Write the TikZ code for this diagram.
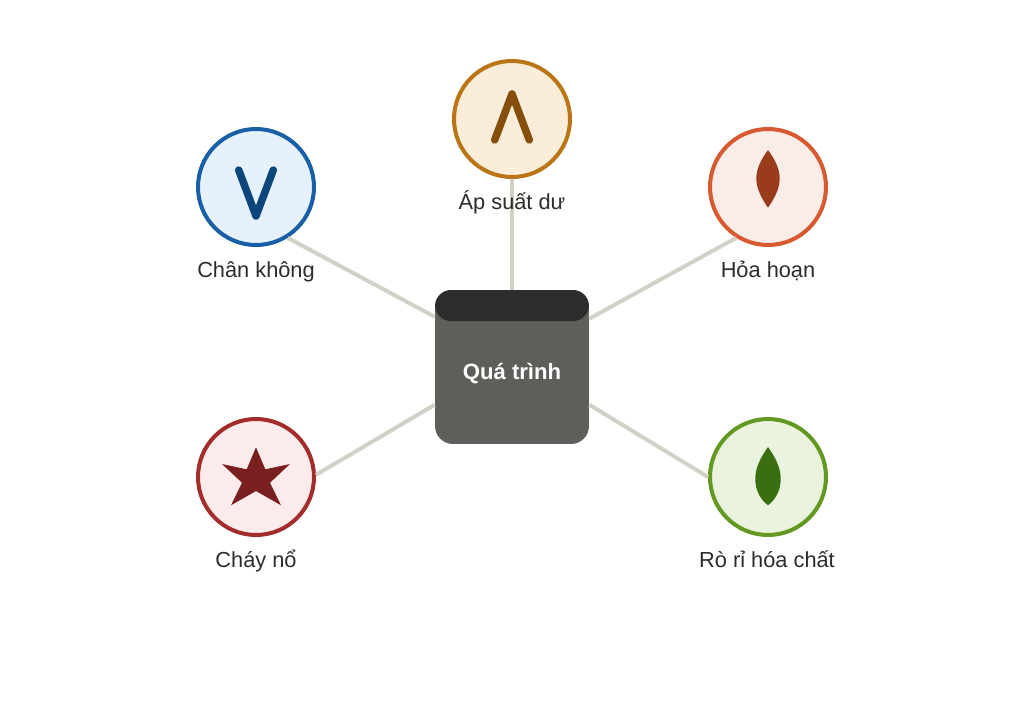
\documentclass[tikz,border=0pt]{standalone}
\usepackage{fontspec}
\setmainfont{Liberation Sans}
\usepackage{xcolor}
\usetikzlibrary{positioning}
\definecolor{linkgray}{HTML}{D3D1C7}
\definecolor{hubgray}{HTML}{5F5E5A}
\definecolor{hubdark}{HTML}{2C2C2A}
\definecolor{blueline}{HTML}{185FA5}
\definecolor{bluefill}{HTML}{E6F1FB}
\definecolor{blueicon}{HTML}{0C447C}
\definecolor{amberline}{HTML}{BA7517}
\definecolor{amberfill}{HTML}{FAEEDA}
\definecolor{ambericon}{HTML}{854F0B}
\definecolor{coralline}{HTML}{D85A30}
\definecolor{coralfill}{HTML}{FAECE7}
\definecolor{coralicon}{HTML}{993C1D}
\definecolor{redline}{HTML}{A32D2D}
\definecolor{redfill}{HTML}{FCEBEB}
\definecolor{redicon}{HTML}{791F1F}
\definecolor{greenline}{HTML}{639922}
\definecolor{greenfill}{HTML}{EAF3DE}
\definecolor{greenicon}{HTML}{3B6D11}
\tikzset{
hazard/.style={
draw,
circle,
line width=0.08cm,
inner sep=0pt,
minimum size=2.32cm
},
hazardlabel/.style={
inner sep=0pt,
text height=0.3cm,
text depth=0.1cm,
text=hubdark,
font=\fontsize{12.4}{15}\selectfont
},
hub/.style={
rounded corners=0.36cm,
minimum width=3.08cm,
minimum height=3.08cm,
fill=hubgray
},
hubtop/.style={
rounded corners=0.32cm,
minimum width=3.08cm,
minimum height=0.62cm,
fill=hubdark
},
hubtext/.style={
text=white,
align=center,
font=\fontsize{12.6}{15}\selectfont\bfseries
},
link/.style={
draw=linkgray,
line width=0.08cm
},
strokeicon/.style={
line width=0.15cm,
line cap=round,
line join=round
}
}
\begin{document}
\begin{tikzpicture}[x=0.02cm,y=-0.02cm,node distance=3mm]
\useasboundingbox (0,0) rectangle (1024,717);
\node[hub](proc) at (512,367) {};
\node[hubtop,anchor=north](proctop) at (proc.north) {};
\node[hubtext](proctext) at (512,373.5) {Quá trình};
\node[hazard,draw=amberline,fill=amberfill](pressure) at (512,119) {};
\node[hazard,draw=blueline,fill=bluefill](vacuum) at (256,187) {};
\node[hazard,draw=coralline,fill=coralfill](fire) at (768,187) {};
\node[hazard,draw=redline,fill=redfill](blast) at (256,477) {};
\node[hazard,draw=greenline,fill=greenfill](leak) at (768,477) {};

\draw[link](proc.north)--(pressure.south);
\draw[link](proc.147.5)--(vacuum.-58);
\draw[link](proc.32.5)--(fire.238);
\draw[link](proc.206.3)--(blast.2);
\draw[link](proc.-26.3)--(leak.west);

\node[hazardlabel,below=of pressure](pressurelabel){Áp suất dư};
\node[hazardlabel,below=of vacuum](vacuumlabel){Chân không};
\node[hazardlabel,below=of fire](firelabel){Hỏa hoạn};
\node[hazardlabel,below=of blast](blastlabel){Cháy nổ};
\node[hazardlabel,below=of leak,xshift=-0.02cm](leaklabel){Rò rỉ hóa chất};

\draw[strokeicon,ambericon](494.7,140)--(512,94)--(529.3,140);
\draw[strokeicon,blueicon](238.7,170)--(256,216)--(273.3,170);
\fill[coralicon](768,150) .. controls (762,158) and (756.3,168) .. (756.3,178.5)
  .. controls (756.3,189) and (762,199) .. (768,207.7)
  .. controls (774,199) and (779.7,189) .. (779.7,178.5)
  .. controls (779.7,168) and (774,158) .. (768,150)--cycle;
\fill[redicon](256,447.3)--(265.3,469.3)--(290,464)--(270,482.7)--(281,505.3)--(256,491)--(231,505.3)--(242,482.7)--(222,464)--(246.7,469.3)--cycle;
\fill[greenicon](768,447) .. controls (761,457) and (755.3,467) .. (755.3,479)
  .. controls (755.3,491) and (761,500) .. (768,505.3)
  .. controls (775,500) and (780.7,491) .. (780.7,479)
  .. controls (780.7,467) and (775,457) .. (768,447)--cycle;
\end{tikzpicture}
\end{document}
